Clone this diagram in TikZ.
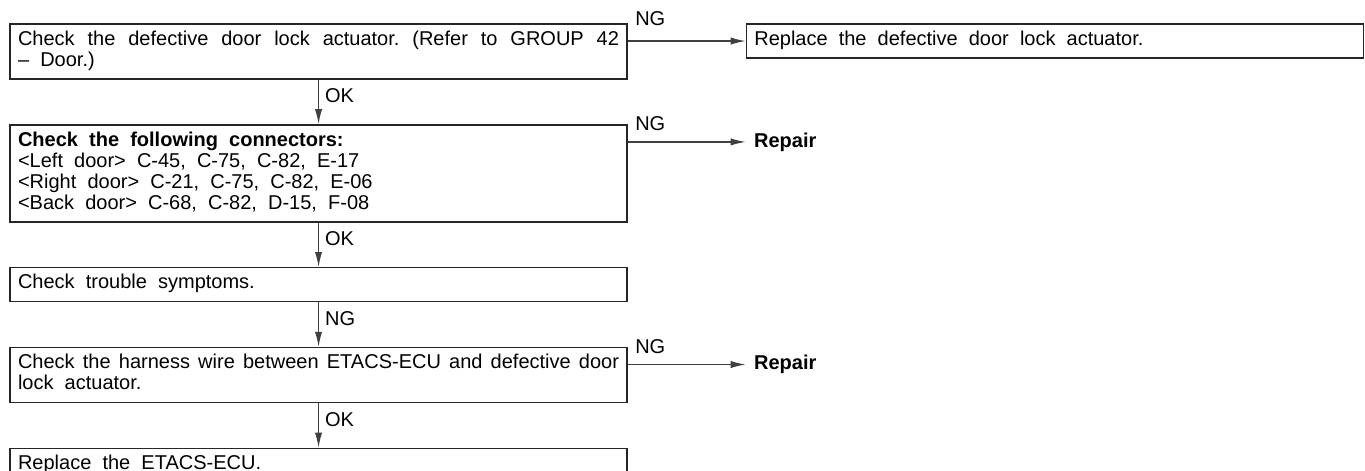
\documentclass[tikz,border=0pt]{standalone}
\usepackage{fontspec}
\setmainfont[WordSpace={2,2,2.4}]{Liberation Sans}
\usepackage{tikz}
\usetikzlibrary{arrows.meta,matrix}

\newcommand{\chartfont}{\fontsize{10pt}{10.5pt}\selectfont\frenchspacing}

\tikzset{
  box/.style={draw=black!85, line width=0.65pt, text width=300.5pt, align=justify,
    inner xsep=4pt, inner ysep=3.25pt, execute at begin node=\strut, execute at end node=\strut},
  rep/.style={font=\chartfont\bfseries, inner sep=4pt},
  flow/.style={draw=black!75, line width=0.6pt, -{Latex[length=7.5pt,width=3.6pt]}},
  ok/.style={anchor=west, inner sep=3pt},
  ng/.style={anchor=base west, inner sep=0pt, xshift=3.5pt}
}

\begin{document}
\begin{tikzpicture}[font=\chartfont]
\useasboundingbox (0,0) rectangle (682.5pt,-235.5pt);
\matrix (m) at (4.5pt,-11.5pt) [matrix of nodes, matrix anchor=north west, inner sep=0pt,
  column sep=59pt, row sep=22.25pt, nodes={anchor=north west}]{
|[box]| Check the defective door lock actuator. (Refer to GROUP 42\linebreak – Door.) & |[box]| Replace the defective door lock actuator. \\
|[box]| \textbf{Check the following connectors:}\newline <Left door> C-45, C-75, C-82, E-17\newline <Right door> C-21, C-75, C-82, E-06\newline <Back door> C-68, C-82, D-15, F-08 & |[rep]| Repair \\
|[box]| Check trouble symptoms. & \\
|[box]| Check the harness wire between ETACS-ECU and defective door\linebreak lock actuator. & |[rep]| Repair \\
|[box]| Replace the ETACS-ECU. & \\
};

% down the left column
\draw[flow] (m-1-1.south) -- node[ok, pos=0.36]{OK} (m-2-1.north);
\draw[flow] (m-2-1.south) -- node[ok, pos=0.36]{OK} (m-3-1.north);
\draw[flow] (m-3-1.south) -- node[ok, pos=0.36]{NG} (m-4-1.north);
\draw[flow] (m-4-1.south) -- node[ok, pos=0.36]{OK} (m-5-1.north);

% NG branches
\draw[flow] (m-1-1.east |- m-1-2.west) -- node[ng, pos=0, yshift=8pt]{NG} (m-1-2.west);
\draw[flow] (m-2-1.east |- m-2-2.west) -- node[ng, pos=0, yshift=5.5pt]{NG} (m-2-2.west);
\draw[flow] (m-4-1.east |- m-4-2.west) -- node[ng, pos=0, yshift=5.5pt]{NG} (m-4-2.west);
\end{tikzpicture}
\end{document}
